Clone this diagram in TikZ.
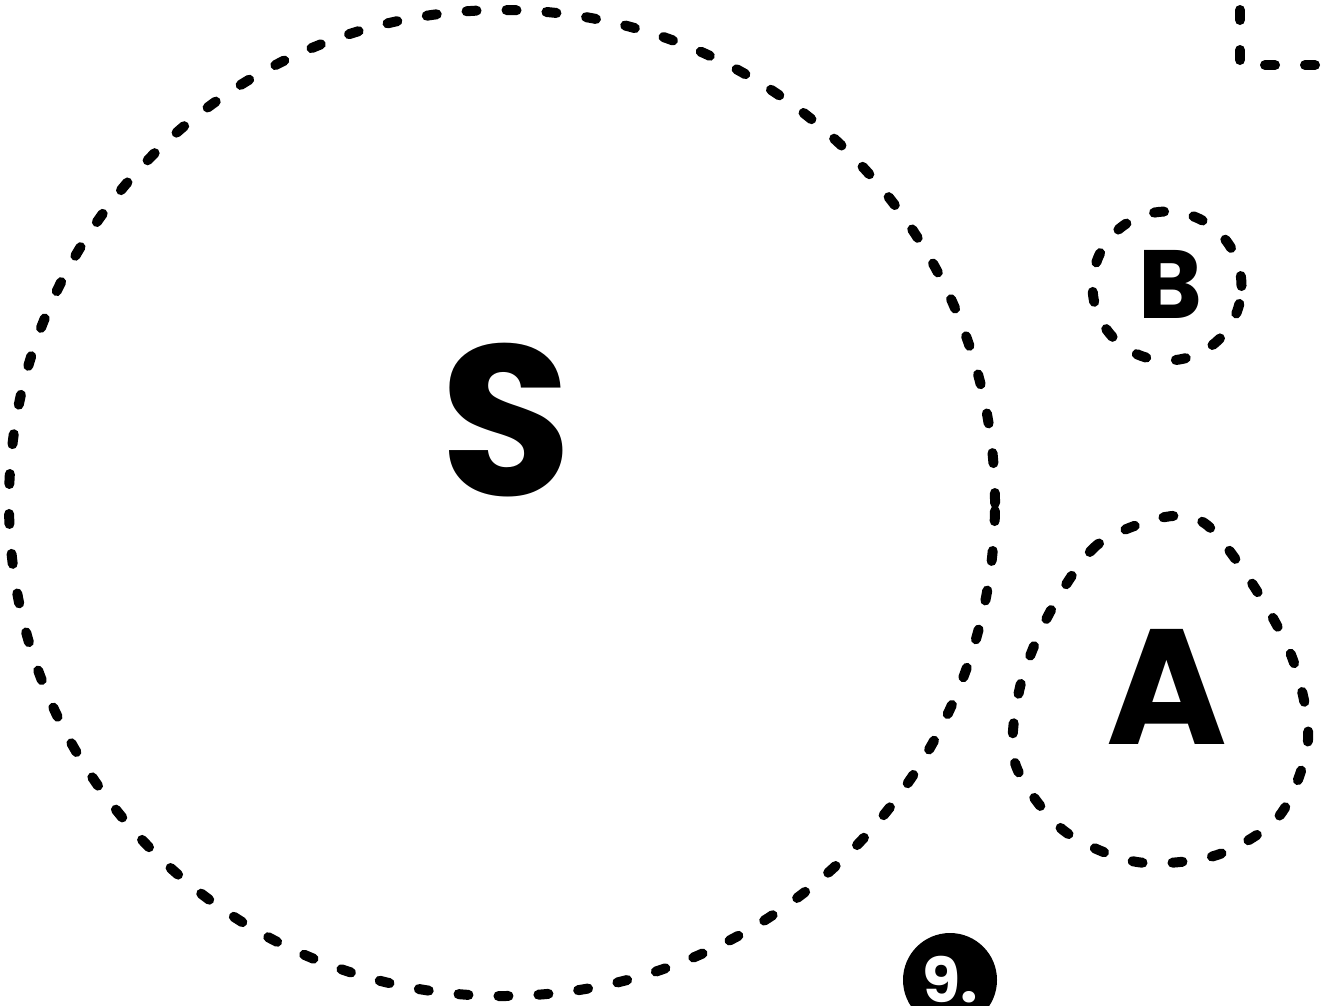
\documentclass[tikz,border=0pt]{standalone}
\usepackage{fontspec}
\setmainfont{Poppins}
\usepackage{tikz}
\usetikzlibrary{positioning, calc}

\begin{document}
\begin{tikzpicture}[
    x=1pt, y=-1pt,
    zone/.style={draw, circle, line width=10pt, line cap=round, dash pattern=on 10pt off 30pt, inner sep=0pt},
    outline/.style={line width=10pt, line cap=round, line join=round, dash pattern=on 10pt off 30pt},
    letter/.style={inner sep=0pt, font=\bfseries\fontsize{#1}{#1}\selectfont},
    badge/.style={circle, fill=black, text=white, minimum size=94pt, inner sep=0pt, font=\bfseries\fontsize{62}{62}\selectfont}
]
    \useasboundingbox (0,0) rectangle (1329,1005);

    % ================= ZONES =================
    \node[zone, minimum size=986pt] (sZone) at (502,503) {};
    \node[zone, minimum size=149pt] (bZone) at (1167,286) {};
    \draw[outline] plot[smooth cycle] coordinates {(1165,517) (1097,545) (1050,612) (1020,687) (1015,763) (1063,830) (1137,862) (1217,855) (1280,815) (1308,740) (1293,660) (1255,588) (1207,525)};

    % corner of the next zone
    \draw[outline] (1240,-30) -- (1240,65) -- (1370,65);

    % ================= LABELS =================
    \node[letter=214] (sLabel) at (506,420) {S};
    \node[letter=97] (bLabel) at (1170,284) {B};
    \node[letter=164] (aLabel) at (1167,687) {A};

    % ================= STEP NUMBER =================
    \node[badge] (step9) at (950,980) {9.};

\end{tikzpicture}
\end{document}
